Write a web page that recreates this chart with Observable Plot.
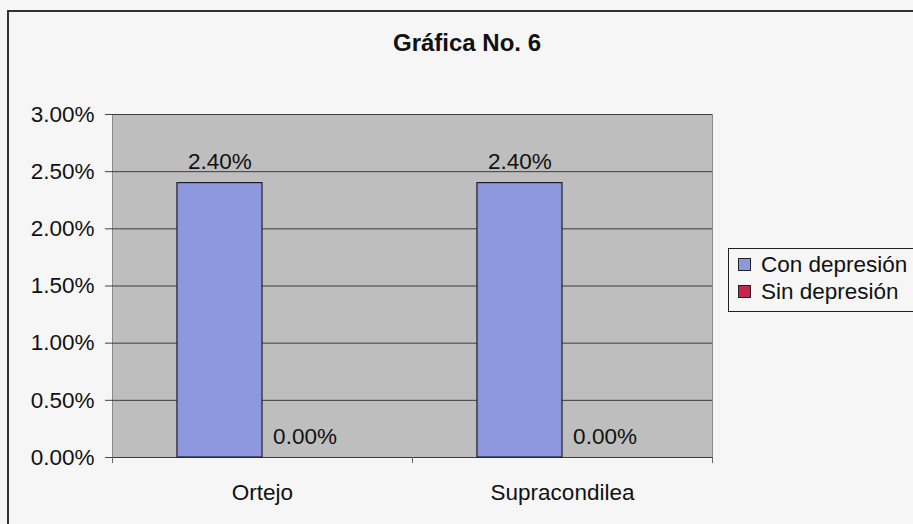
<!DOCTYPE html>
<html><head><meta charset="utf-8">
<script src="https://cdn.jsdelivr.net/npm/d3@7"></script>
<script src="https://cdn.jsdelivr.net/npm/@observablehq/plot@0.6"></script>
<style>
body{margin:0;background:#f6f6f6;font-family:Arial,"Liberation Sans",sans-serif;color:#111;}
#wrap{position:relative;width:913px;height:524px;overflow:hidden;}
#border{position:absolute;left:7px;top:10px;width:1000px;height:1000px;border-left:2px solid #333;border-top:2px solid #333;box-sizing:border-box;}
#chart{position:absolute;left:0;top:0;}
#title{position:absolute;left:367px;width:200px;top:31px;line-height:24px;text-align:center;font-weight:bold;font-size:24px;white-space:nowrap;}
#legend{position:absolute;left:728px;top:248px;width:200px;height:64px;border:1px solid #222;box-sizing:border-box;background:#f6f6f6;}
.item{position:absolute;left:9px;font-size:22.5px;line-height:22px;white-space:nowrap;}
.sw{display:inline-block;width:11px;height:11px;border:1px solid #222;margin-right:10px;vertical-align:1px;}
</style></head>
<body>
<div id="wrap">
<div id="border"></div>
<div id="chart"></div>
<div id="title"></div>
<div id="legend"></div>
</div>
<script>
const title = "Gráfica No. 6";
const categories = ["Ortejo", "Supracondilea"];
const series = ["Con depresión", "Sin depresión"];
const conValues = [0.024, 0.024];
const sinValues = [0.0, 0.0];
const yTicks = [0, 0.005, 0.01, 0.015, 0.02, 0.025, 0.03];
const colors = ["#8e98de", "#c8244e"];

const groupWidth = 0.567;           // fraction of each category band used by the bar group
const barW = groupWidth / series.length;
const valuesBySeries = [conValues, sinValues];
const rows = [];
categories.forEach((c, i) => {
  series.forEach((s, k) => {
    const x1 = i - groupWidth / 2 + k * barW;
    rows.push({cat: c, series: s, value: valuesBySeries[k][i], x1, x2: x1 + barW, xc: x1 + barW / 2});
  });
});
const fmt = d3.format(".2%");

const chart = Plot.plot({
  width: 913, height: 524,
  marginLeft: 112, marginRight: 201, marginTop: 114, marginBottom: 67,
  style: {fontSize: "22.5px", fontFamily: "Arial, 'Liberation Sans', sans-serif", background: "transparent", color: "#111"},
  x: {type: "linear", domain: [-0.5, categories.length - 0.5], label: null},
  y: {domain: [0, 0.03], label: null},
  color: {domain: series, range: colors},
  marks: [
    Plot.frame({fill: "#bebebe", stroke: "#8a8a8a"}),
    Plot.ruleY(yTicks, {stroke: "#3c3c3c", strokeWidth: 1}),
    Plot.rectY(rows, {x1: "x1", x2: "x2", y1: 0, y2: "value", fill: "series", stroke: "#1e1e2a", strokeWidth: 1.2}),
    Plot.text(rows, {x: "xc", y: "value", text: d => fmt(d.value), lineAnchor: "bottom", dy: -14, fill: "#111"}),
    Plot.axisY({ticks: yTicks, tickFormat: fmt, tickSize: 7, tickPadding: 11, stroke: "#444", label: null}),
    Plot.axisX({ticks: [-0.5, 0.5, 1.5], tickFormat: () => "", tickSize: 6, stroke: "#666", label: null}),
    Plot.axisX({ticks: categories.map((c, i) => i), tickFormat: i => categories[i], tickSize: 0, tickPadding: 27, label: null})
  ]
});
document.getElementById("chart").appendChild(chart);
document.getElementById("title").textContent = title;

const legend = document.getElementById("legend");
series.forEach((s, k) => {
  const div = document.createElement("div");
  div.className = "item";
  div.style.top = (5 + k * 27) + "px";
  const sw = document.createElement("span");
  sw.className = "sw";
  sw.style.background = colors[k];
  div.appendChild(sw);
  div.appendChild(document.createTextNode(s));
  legend.appendChild(div);
});
</script>
</body></html>
